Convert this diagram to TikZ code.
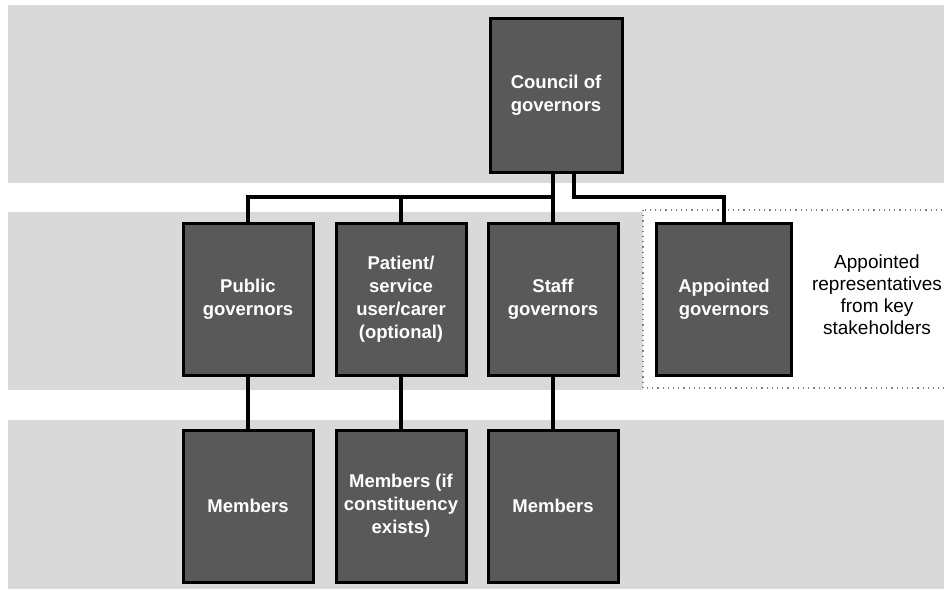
\documentclass[tikz,border=0pt]{standalone}
\usepackage{fontspec}
\setmainfont{Liberation Sans}
\usepackage{tikz}

\tikzset{
  govbox/.style={draw=black, line width=3pt, fill=black!65, text=white,
    font=\fontsize{18.5}{23}\selectfont\bfseries, align=center,
    minimum width=130pt, minimum height=152pt, inner sep=0pt},
  link/.style={draw=black, line width=3.5pt},
  stipple/.style={fill=black!15}
}

\begin{document}
\begin{tikzpicture}[x=1pt, y=-1pt]
\useasboundingbox (0,0) rectangle (944,589);
\fill[stipple] (8,5) rectangle (944,183);
\fill[stipple] (8,212) rectangle (643,390);
\fill[stipple] (8,420) rectangle (944,589);
\draw[black!50, loosely dotted, line width=1.2pt] (643,210) rectangle (950,388);

\node[govbox, minimum width=132pt, minimum height=154pt] (council) at (556,95) {Council of\\governors};
\node[govbox] (pubgov) at (248,299) {Public\\governors};
\node[govbox] (patgov) at (401,299) {Patient/\\service\\user/carer\\(optional)};
\node[govbox] (stagov) at (553,299) {Staff\\governors};
\node[govbox, minimum width=135pt] (appgov) at (724,299) {Appointed\\governors};
\node[govbox] (pubmem) at (248,506) {Members};
\node[govbox] (patmem) at (401,506) {Members (if\\constituency\\exists)};
\node[govbox] (stamem) at (553,506) {Members};
\node[align=center, font=\fontsize{19}{22}\selectfont] (apptext) at (877,295)
  {Appointed\\representatives\\from key\\stakeholders};

\coordinate (bus) at (0,197);
\draw[link] (pubgov.north) |- (stagov |- bus);
\draw[link] (patgov.north) -- (patgov |- bus);
\draw[link] (stagov.north) -- (stagov |- council.south);
\draw[link] ([xshift=18pt]council.south) |- (appgov |- bus) -- (appgov.north);
\draw[link] (pubgov.south) -- (pubmem.north);
\draw[link] (patgov.south) -- (patmem.north);
\draw[link] (stagov.south) -- (stamem.north);
\end{tikzpicture}
\end{document}
